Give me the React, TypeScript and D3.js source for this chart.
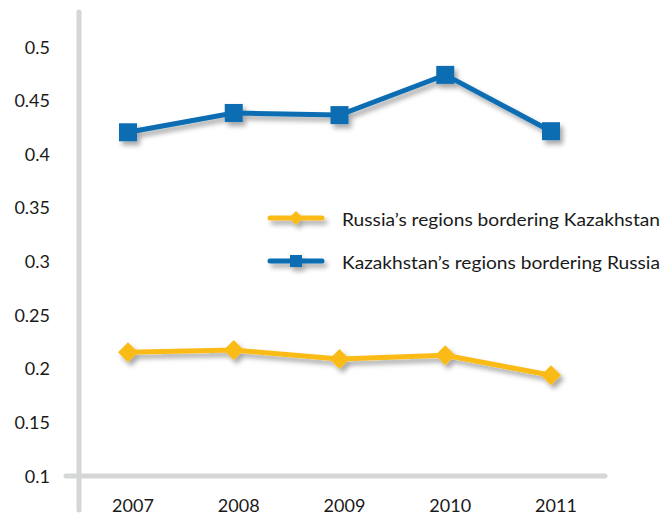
import React from "react";
import * as d3 from "d3";

const years = ["2007", "2008", "2009", "2010", "2011"];
const russiaSeries = [0.2155, 0.2175, 0.209, 0.2125, 0.194];
const kazakhSeries = [0.4205, 0.4385, 0.4365, 0.474, 0.4215];
const yTicks = [0.1, 0.15, 0.2, 0.25, 0.3, 0.35, 0.4, 0.45, 0.5];
const seriesNames = ["Russia\u2019s regions bordering Kazakhstan", "Kazakhstan\u2019s regions bordering Russia"];

const W = 662, H = 516;
const BLUE = "#0a6db3";
const YELLOW = "#fbbb15";
const GRAY = "#d5d6d8";
const FONT = "Lato, 'Open Sans', sans-serif";

export default function App() {
  const x = d3.scalePoint<string>().domain(years).range([128, 551]);
  const y = d3.scaleLinear().domain([0.1, 0.5]).range([476, 47]);
  const line = d3.line<number>().x((_, i) => x(years[i])!).y((d) => y(d));

  const diamond = (cx: number, cy: number, r: number) =>
    `M${cx},${cy - r}L${cx + r},${cy}L${cx},${cy + r}L${cx - r},${cy}Z`;

  return (
    <svg width={W} height={H} style={{ position: "absolute", left: 0, top: 0, background: "#fff" }}>
      <defs>
        <filter id="sh" x="-30%" y="-30%" width="160%" height="180%">
          <feDropShadow dx="3" dy="4" stdDeviation="2.5" floodColor="#000" floodOpacity="0.35" />
        </filter>
      </defs>
      {/* axes */}
      <line x1={79} x2={79} y1={12} y2={510} stroke={GRAY} strokeWidth={5} strokeLinecap="round" />
      <line x1={66} x2={605} y1={y(0.1)} y2={y(0.1)} stroke={GRAY} strokeWidth={5} strokeLinecap="round" />
      {yTicks.map((t) => (
        <text key={t} x={50} y={y(t) + 6.5} textAnchor="end" fontFamily={FONT} fontSize={18} fill="#1a1a1a">
          {String(t)}
        </text>
      ))}
      {years.map((yr) => (
        <text key={yr} x={x(yr)! + 5} y={512} textAnchor="middle" fontFamily={FONT} fontSize={18} fill="#1a1a1a">
          {yr}
        </text>
      ))}
      {/* Kazakhstan series */}
      <g filter="url(#sh)">
        <path d={line(kazakhSeries)!} fill="none" stroke={BLUE} strokeWidth={5} />
        {kazakhSeries.map((v, i) => (
          <rect key={i} x={x(years[i])! - 9} y={y(v) - 9} width={18} height={18} fill={BLUE} />
        ))}
      </g>
      {/* Russia series */}
      <g filter="url(#sh)">
        <path d={line(russiaSeries)!} fill="none" stroke={YELLOW} strokeWidth={5} />
        {russiaSeries.map((v, i) => (
          <path key={i} d={diamond(x(years[i])!, y(v), 10)} fill={YELLOW} />
        ))}
      </g>
      {/* legend */}
      <g filter="url(#sh)">
        <line x1={270} x2={322} y1={218} y2={218} stroke={YELLOW} strokeWidth={5} strokeLinecap="round" />
        <path d={diamond(296, 218, 7)} fill={YELLOW} />
        <line x1={270} x2={322} y1={261} y2={261} stroke={BLUE} strokeWidth={5} strokeLinecap="round" />
        <rect x={290} y={255} width={12} height={12} fill={BLUE} />
      </g>
      <text x={342} y={226} fontFamily={FONT} fontSize={18} fill="#1a1a1a" textLength={318} lengthAdjust="spacingAndGlyphs">
        {seriesNames[0]}
      </text>
      <text x={342} y={269} fontFamily={FONT} fontSize={18} fill="#1a1a1a" textLength={318} lengthAdjust="spacingAndGlyphs">
        {seriesNames[1]}
      </text>
    </svg>
  );
}
